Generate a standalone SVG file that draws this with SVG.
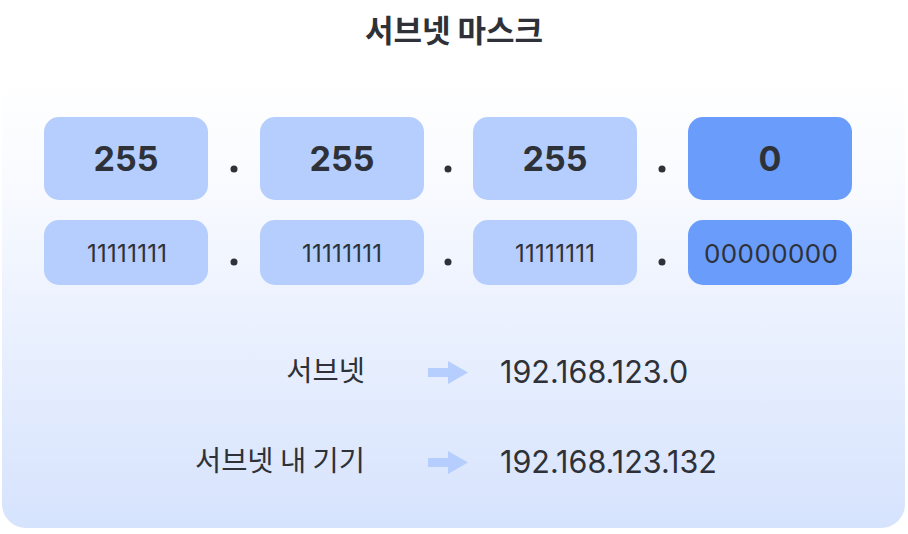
<svg xmlns="http://www.w3.org/2000/svg" width="908" height="534" viewBox="0 0 908 534">
<defs>
<linearGradient id="bg" x1="0" y1="0" x2="0" y2="1">
<stop offset="0" stop-color="#ffffff"/>
<stop offset="0.25" stop-color="#f8faff"/>
<stop offset="1" stop-color="#d6e3fd"/>
</linearGradient>
<style>
.t{font-family:"Noto Sans CJK KR","Noto Sans",sans-serif;fill:#2e3238}
.n{font-family:"Inter","Noto Sans",sans-serif;fill:#2e3238}
.big{font-size:34px;font-weight:700}
.bin{font-size:24px}
.bin0{font-size:26px}
.lab{font-size:28.5px}
.ip{font-size:30.5px}
.lt{fill:#b5cefd}
.dk{fill:#6a9cfc}
.dot{fill:#2e3238}
.arr{fill:#b5cefd}
</style>
</defs>
<rect width="908" height="534" fill="#ffffff"/>
<rect x="2" y="78" width="903" height="450" rx="24" fill="url(#bg)"/>
<text class="t" x="454" y="42" text-anchor="middle" font-size="31" font-weight="700">서브넷 마스크</text>
<g id="oct1"><rect class="lt" x="44" y="117" width="164" height="83" rx="15"/><text class="n big" x="126" y="171" text-anchor="middle">255</text></g>
<g id="oct2"><rect class="lt" x="260" y="117" width="164" height="83" rx="15"/><text class="n big" x="342" y="171" text-anchor="middle">255</text></g>
<g id="oct3"><rect class="lt" x="473" y="117" width="164" height="83" rx="15"/><text class="n big" x="555" y="171" text-anchor="middle">255</text></g>
<g id="oct4"><rect class="dk" x="688" y="117" width="164" height="83" rx="15"/><text class="n big" x="770" y="171" text-anchor="middle">0</text></g>
<g id="bin1"><rect class="lt" x="44" y="220" width="164" height="65" rx="15"/><text class="n bin" x="87" y="262" textLength="80">11111111</text></g>
<g id="bin2"><rect class="lt" x="260" y="220" width="164" height="65" rx="15"/><text class="n bin" x="302" y="262" textLength="80">11111111</text></g>
<g id="bin3"><rect class="lt" x="473" y="220" width="164" height="65" rx="15"/><text class="n bin" x="515" y="262" textLength="80">11111111</text></g>
<g id="bin4"><rect class="dk" x="688" y="220" width="164" height="65" rx="15"/><text class="n bin0" x="704" y="263" textLength="134">00000000</text></g>
<g id="dots">
<circle class="dot" cx="234" cy="169" r="3.5"/><circle class="dot" cx="448" cy="169" r="3.5"/><circle class="dot" cx="662" cy="169" r="3.5"/>
<circle class="dot" cx="234" cy="262" r="3.5"/><circle class="dot" cx="448" cy="262" r="3.5"/><circle class="dot" cx="662" cy="262" r="3.5"/>
</g>
<g id="row1">
<text class="t lab" x="365" y="381" text-anchor="end">서브넷</text>
<text class="n ip" x="500" y="383">192.168.123.0</text>
</g>
<g id="row2">
<text class="t lab" x="365" y="471" text-anchor="end">서브넷 내 기기</text>
<text class="n ip" x="500" y="473">192.168.123.132</text>
</g>
<g id="connectors">
<path class="arr" d="M428 368 H448 V361 L468 372.5 L448 384 V377 H428 Z"/>
<path class="arr" d="M428 458 H448 V451 L468 462.5 L448 474 V467 H428 Z"/>
</g>
</svg>
